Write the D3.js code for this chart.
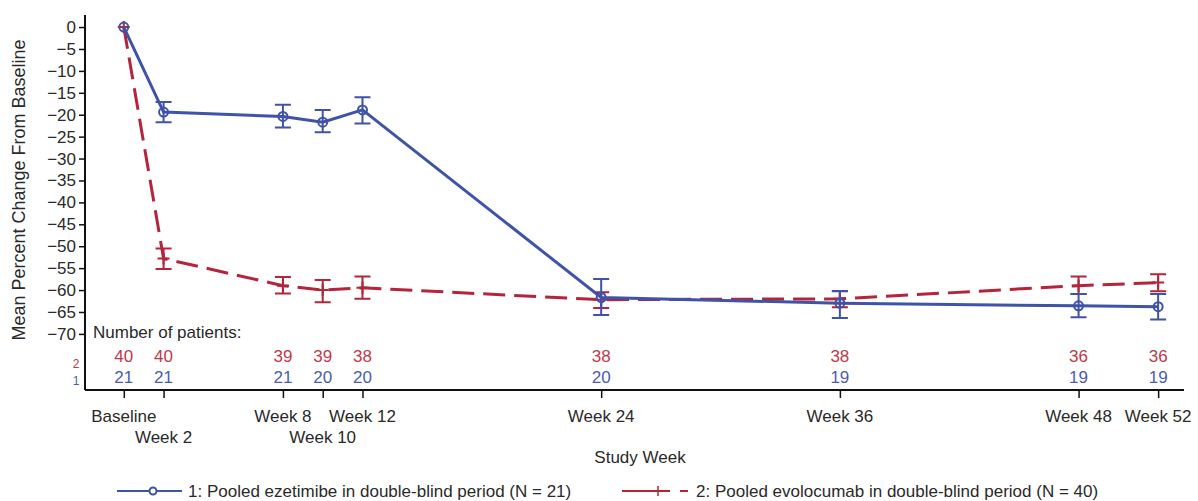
<!DOCTYPE html>
<html>
<head>
<meta charset="utf-8">
<script src="https://cdn.jsdelivr.net/npm/d3@7"></script>
<style>
  body { margin: 0; background: #fff; }
  svg { font-family: Arial, "Liberation Sans", sans-serif; }
</style>
</head>
<body>
<div id="chart"></div>
<script>
let width = 1198;
let height = 501;
let blueColour = "#3f53a8";
let redColour = "#b5243b";
let blueText = "#4a5db3";
let redText = "#c0394b";
let textColour = "#2a2a2a";
let fontSize = "17px";

// study weeks and their tick labels
let weeks = [0, 2, 8, 10, 12, 24, 36, 48, 52];
let weekLabels = ["Baseline", "Week 2", "Week 8", "Week 10", "Week 12", "Week 24", "Week 36", "Week 48", "Week 52"];

// 1: ezetimibe
let ezeMean = [0, -19.4, -20.4, -21.7, -18.9, -61.7, -63.0, -63.6, -63.8];
let ezeLow = [null, -21.7, -22.9, -24.0, -22.0, -65.7, -66.4, -66.2, -66.7];
let ezeHigh = [null, -17.1, -17.7, -18.9, -16.0, -57.5, -60.2, -60.9, -60.9];
let ezeN = [21, 21, 21, 20, 20, 20, 19, 19, 19];

// 2: evolocumab
let evoMean = [0, -52.8, -59.0, -60.0, -59.5, -62.2, -62.0, -59.0, -58.3];
let evoLow = [null, -55.2, -60.8, -62.8, -62.0, -64.1, -63.9, -60.9, -60.3];
let evoHigh = [null, -50.5, -57.0, -57.7, -56.9, -60.5, -60.3, -56.9, -56.4];
let evoN = [40, 40, 39, 39, 38, 38, 38, 36, 36];

let yTicks = d3.range(0, -71, -5);

var svg = d3.select("#chart")
    .append("svg")
    .attr("width", width)
    .attr("height", height);

var x = d3.scaleLinear().domain([-1.95, 53.3]).range([85, 1184]);
var y = d3.scaleLinear().domain([2.75, -82.8]).range([15, 390]);

// y axis
var yAxis = svg.append("g")
    .attr("transform", "translate(85,0)")
    .call(d3.axisLeft(y).tickValues(yTicks).tickSize(6).tickPadding(3)
        .tickFormat(d => d === 0 ? "0" : "\u2212" + Math.abs(d)));
yAxis.select(".domain").attr("stroke", "#111").attr("stroke-width", 2)
    .attr("d", "M0," + y.range()[0] + "V" + y.range()[1]);
yAxis.selectAll(".tick line").attr("stroke", "#111").attr("stroke-width", 1.5);
yAxis.selectAll(".tick text").attr("fill", textColour).style("font-size", fontSize);

// x axis
var xAxis = svg.append("g")
    .attr("transform", "translate(0,390)")
    .call(d3.axisBottom(x).tickValues(weeks).tickSize(8).tickFormat(""));
xAxis.select(".domain").attr("stroke", "#111").attr("stroke-width", 2)
    .attr("d", "M" + x.range()[0] + ",0H" + x.range()[1]);
xAxis.selectAll(".tick line").attr("stroke", "#111").attr("stroke-width", 1.5);

svg.append("g").selectAll("text")
    .data(weeks)
    .enter().append("text")
    .attr("x", d => x(d))
    .attr("y", (d, i) => (i === 1 || i === 3) ? 443 : 422)
    .attr("text-anchor", "middle")
    .attr("fill", textColour)
    .style("font-size", fontSize)
    .text((d, i) => weekLabels[i]);

svg.append("text")
    .attr("x", 640).attr("y", 463)
    .attr("text-anchor", "middle")
    .attr("fill", textColour)
    .style("font-size", fontSize)
    .text("Study Week");

svg.append("text")
    .attr("transform", "translate(25,190) rotate(-90)")
    .attr("text-anchor", "middle")
    .attr("fill", textColour)
    .style("font-size", "18px")
    .text("Mean Percent Change From Baseline");

// number of patients
svg.append("text")
    .attr("x", 93).attr("y", 338)
    .attr("fill", textColour)
    .style("font-size", fontSize)
    .text("Number of patients:");

svg.append("text").attr("x", 76).attr("y", 368).attr("text-anchor", "middle")
    .attr("fill", redText).style("font-size", "12px").text("2");
svg.append("text").attr("x", 76).attr("y", 385).attr("text-anchor", "middle")
    .attr("fill", blueText).style("font-size", "12px").text("1");

svg.append("g").selectAll("text")
    .data(weeks)
    .enter().append("text")
    .attr("x", d => x(d)).attr("y", 362)
    .attr("text-anchor", "middle")
    .attr("fill", redText)
    .style("font-size", fontSize)
    .text((d, i) => evoN[i]);

svg.append("g").selectAll("text")
    .data(weeks)
    .enter().append("text")
    .attr("x", d => x(d)).attr("y", 383)
    .attr("text-anchor", "middle")
    .attr("fill", blueText)
    .style("font-size", fontSize)
    .text((d, i) => ezeN[i]);

// series
function drawSeries(mean, low, high, colour, dash, marker) {
    var g = svg.append("g");
    var pts = weeks.map((w, i) => ({w: w, m: mean[i], lo: low[i], hi: high[i]}));
    var line = d3.line().x(d => x(d.w)).y(d => y(d.m));
    g.append("path")
        .attr("d", line(pts))
        .attr("fill", "none")
        .attr("stroke", colour)
        .attr("stroke-width", 3)
        .attr("stroke-dasharray", dash);

    var bars = pts.filter(d => d.lo !== null);
    g.selectAll(".err")
        .data(bars)
        .enter().append("path")
        .attr("d", d => "M" + x(d.w) + "," + y(d.lo) + "V" + y(d.hi)
            + "M" + (x(d.w) - 8) + "," + y(d.lo) + "h16"
            + "M" + (x(d.w) - 8) + "," + y(d.hi) + "h16")
        .attr("fill", "none")
        .attr("stroke", colour)
        .attr("stroke-width", 2);

    if (marker === "circle") {
        g.selectAll("circle")
            .data(pts)
            .enter().append("circle")
            .attr("cx", d => x(d.w)).attr("cy", d => y(d.m))
            .attr("r", 4.5)
            .attr("fill", "none")
            .attr("stroke", colour)
            .attr("stroke-width", 2);
    } else {
        g.selectAll(".plus")
            .data(pts)
            .enter().append("path")
            .attr("d", d => "M" + (x(d.w) - 6) + "," + y(d.m) + "h12M" + x(d.w) + "," + (y(d.m) - 6) + "v12")
            .attr("stroke", colour)
            .attr("stroke-width", 2);
    }
}

drawSeries(evoMean, evoLow, evoHigh, redColour, "22,9", "plus");
drawSeries(ezeMean, ezeLow, ezeHigh, blueColour, null, "circle");

// legend
var leg = svg.append("g");
leg.append("line").attr("x1", 117).attr("x2", 182).attr("y1", 491).attr("y2", 491)
    .attr("stroke", blueColour).attr("stroke-width", 2);
leg.append("circle").attr("cx", 153).attr("cy", 491).attr("r", 3.5)
    .attr("fill", "#fff").attr("stroke", blueColour).attr("stroke-width", 2);
leg.append("text").attr("x", 188).attr("y", 497).attr("fill", textColour)
    .style("font-size", fontSize)
    .text("1: Pooled ezetimibe in double-blind period (N = 21)");

leg.append("line").attr("x1", 622).attr("x2", 688).attr("y1", 491).attr("y2", 491)
    .attr("stroke", redColour).attr("stroke-width", 2).attr("stroke-dasharray", "48,10,8");
leg.append("path").attr("d", "M658,486v10")
    .attr("stroke", redColour).attr("stroke-width", 1.5);
leg.append("text").attr("x", 696).attr("y", 497).attr("fill", textColour)
    .style("font-size", fontSize)
    .text("2: Pooled evolocumab in double-blind period (N = 40)");
</script>
</body>
</html>
